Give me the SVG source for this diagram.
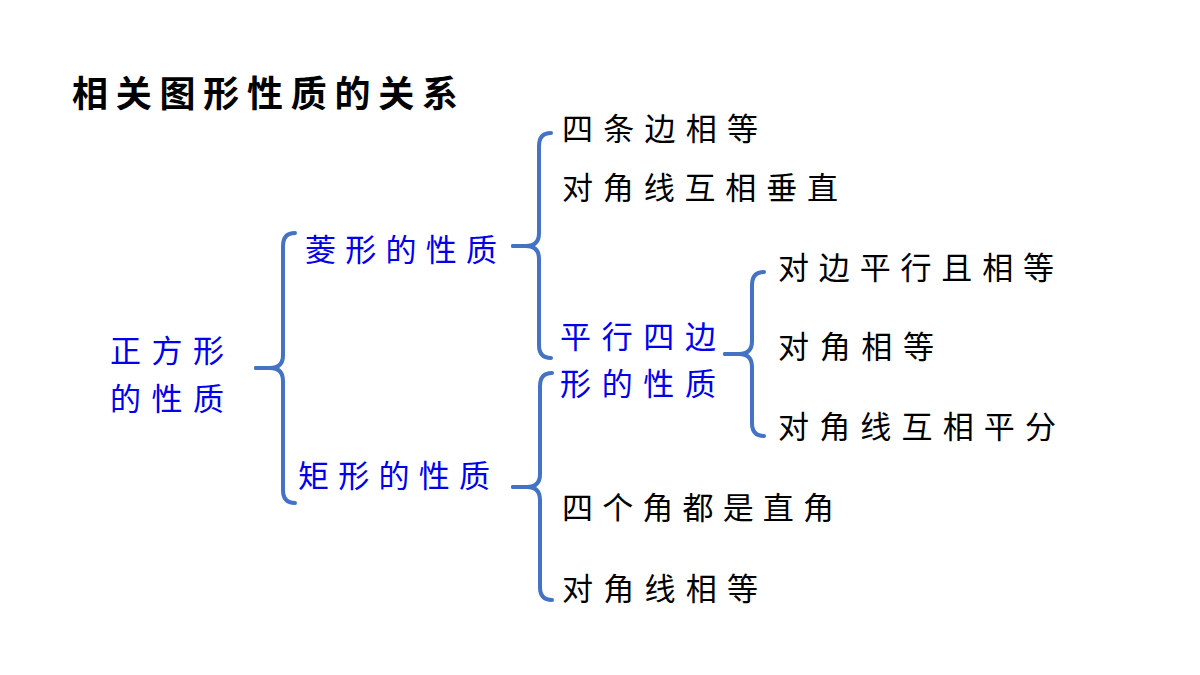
<svg xmlns="http://www.w3.org/2000/svg" width="1200" height="675" viewBox="0 0 1200 675">
<style>
.t{font-family:"Noto Sans CJK SC",sans-serif;font-size:31px;fill:#000}
.b{fill:#0000ee}
.br{fill:none;stroke:#4472c4;stroke-width:4;stroke-linecap:round}
</style>
<rect width="1200" height="675" fill="#fff"/>
<text x="72" y="107" style="font-family:'Noto Sans CJK SC',sans-serif;font-size:36px;font-weight:bold" textLength="386" lengthAdjust="spacing">相关图形性质的关系</text>
<g id="connectors">
<path class="br" d="M256,368 H270 Q283,368 283,355 V246 Q283,233 295,233"/>
<path class="br" d="M256,368 H270 Q283,368 283,381 V490 Q283,503 295,503"/>
<path class="br" d="M513,246 H526 Q539,246 539,233 V146 Q539,133 551,133"/>
<path class="br" d="M513,246 H526 Q539,246 539,259 V345 Q539,358 551,358"/>
<path class="br" d="M513,487 H527 Q540,487 540,474 V386 Q540,373 552,373"/>
<path class="br" d="M513,487 H527 Q540,487 540,500 V587 Q540,600 552,600"/>
<path class="br" d="M725,354 H739 Q752,354 752,341 V285 Q752,272 764,272"/>
<path class="br" d="M725,354 H739 Q752,354 752,367 V423 Q752,436 764,436"/>
</g>
<g id="n0"><text class="t b" x="110" y="362" textLength="114" lengthAdjust="spacing">正方形</text><text class="t b" x="110" y="410" textLength="114" lengthAdjust="spacing">的性质</text></g>
<g id="n1"><text class="t b" x="305" y="261" textLength="192" lengthAdjust="spacing">菱形的性质</text></g>
<g id="n2"><text class="t b" x="298" y="487" textLength="192" lengthAdjust="spacing">矩形的性质</text></g>
<g id="n3"><text class="t" x="562" y="140" textLength="196" lengthAdjust="spacing">四条边相等</text></g>
<g id="n4"><text class="t" x="562" y="199" textLength="276" lengthAdjust="spacing">对角线互相垂直</text></g>
<g id="n5"><text class="t b" x="560" y="348" textLength="156" lengthAdjust="spacing">平行四边</text><text class="t b" x="560" y="395" textLength="156" lengthAdjust="spacing">形的性质</text></g>
<g id="n6"><text class="t" x="778" y="279" textLength="276" lengthAdjust="spacing">对边平行且相等</text></g>
<g id="n7"><text class="t" x="778" y="358" textLength="156" lengthAdjust="spacing">对角相等</text></g>
<g id="n8"><text class="t" x="778" y="438" textLength="278" lengthAdjust="spacing">对角线互相平分</text></g>
<g id="n9"><text class="t" x="562" y="519" textLength="272" lengthAdjust="spacing">四个角都是直角</text></g>
<g id="n10"><text class="t" x="562" y="600" textLength="196" lengthAdjust="spacing">对角线相等</text></g>
</svg>
